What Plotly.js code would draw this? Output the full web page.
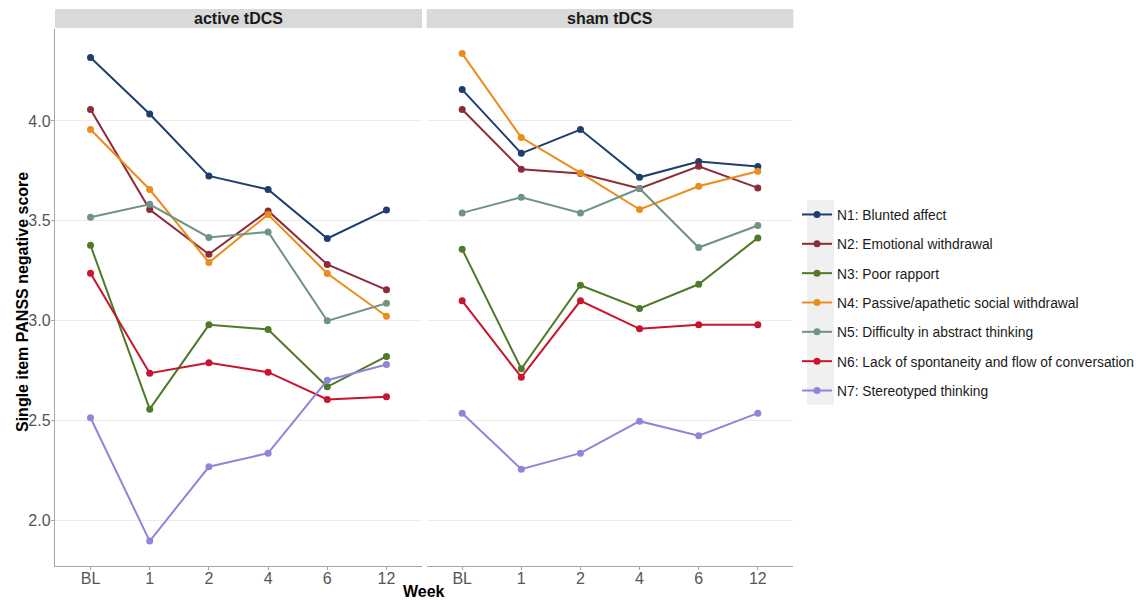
<!DOCTYPE html>
<html>
<head>
<meta charset="utf-8">
<script src="https://cdn.plot.ly/plotly-3.0.1.min.js"></script>
<style>html,body{margin:0;padding:0;background:#fff;}#chart{width:1147px;height:603px;}</style>
</head>
<body>
<div id="chart"></div>
<script>
const weeks = ["BL", "1", "2", "4", "6", "12"];
const panels = ["active tDCS", "sham tDCS"];
const itemNames = [
  "N1: Blunted affect",
  "N2: Emotional withdrawal",
  "N3: Poor rapport",
  "N4: Passive/apathetic social withdrawal",
  "N5: Difficulty in abstract thinking",
  "N6: Lack of spontaneity and flow of conversation",
  "N7: Stereotyped thinking"
];
const itemColors = ["#1c3f6e", "#8b2c3a", "#4f7a28", "#ec8c1a", "#6f9385", "#c8142d", "#8f86d8"];

// active tDCS
const activeN1 = [4.317, 4.035, 3.725, 3.657, 3.412, 3.554];
const activeN2 = [4.057, 3.557, 3.333, 3.550, 3.282, 3.155];
const activeN3 = [3.378, 2.558, 2.980, 2.957, 2.670, 2.822];
const activeN4 = [3.957, 3.657, 3.292, 3.532, 3.237, 3.023];
const activeN5 = [3.518, 3.583, 3.417, 3.445, 3.000, 3.088];
const activeN6 = [3.238, 2.738, 2.790, 2.743, 2.607, 2.620];
const activeN7 = [2.515, 1.898, 2.270, 2.338, 2.703, 2.782];
// sham tDCS
const shamN1 = [4.157, 3.838, 3.957, 3.718, 3.797, 3.772];
const shamN2 = [4.057, 3.758, 3.737, 3.662, 3.773, 3.665];
const shamN3 = [3.358, 2.760, 3.178, 3.062, 3.183, 3.415];
const shamN4 = [4.337, 3.917, 3.740, 3.557, 3.673, 3.748];
const shamN5 = [3.540, 3.618, 3.540, 3.662, 3.367, 3.477];
const shamN6 = [3.100, 2.718, 3.100, 2.960, 2.980, 2.980];
const shamN7 = [2.538, 2.258, 2.338, 2.498, 2.425, 2.538];

const activeSeries = [activeN1, activeN2, activeN3, activeN4, activeN5, activeN6, activeN7];
const shamSeries = [shamN1, shamN2, shamN3, shamN4, shamN5, shamN6, shamN7];

const yTickVals = [2.0, 2.5, 3.0, 3.5, 4.0];
const yTickText = ["2.0", "2.5", "3.0", "3.5", "4.0"];

const W = 1147, H = 603;
const plotTop = 29, plotBottom = 566;
const ph = plotBottom - plotTop;
const dom1 = [55 / W, 422 / W];
const dom2 = [426.7 / W, 793.3 / W];
const FONT = "Liberation Sans, Arial, sans-serif";

const traces = [];
itemNames.forEach((name, i) => {
  traces.push({
    x: weeks, y: activeSeries[i], xaxis: "x", yaxis: "y",
    type: "scatter", mode: "lines+markers", name: name,
    legendgroup: "g" + i, showlegend: true,
    line: {color: itemColors[i], width: 2},
    marker: {color: itemColors[i], size: 7}
  });
});
itemNames.forEach((name, i) => {
  traces.push({
    x: weeks, y: shamSeries[i], xaxis: "x2", yaxis: "y2",
    type: "scatter", mode: "lines+markers", name: name,
    legendgroup: "g" + i, showlegend: false,
    line: {color: itemColors[i], width: 2},
    marker: {color: itemColors[i], size: 7}
  });
});

const yr = [2.0 - (plotBottom - 520.7) / 200, 4.0 + (121 - plotTop) / 200];

const xaxisBase = {
  type: "category", categoryorder: "array", categoryarray: weeks,
  range: [-0.6, 5.6], showgrid: false, zeroline: false,
  showline: true, linecolor: "#a6a6a6", linewidth: 1.2,
  ticks: "outside", ticklen: 3, tickcolor: "#a6a6a6",
  ticklabelstandoff: -5,
  tickfont: {family: FONT, size: 16, color: "#555555"}
};
const yaxisBase = {
  range: yr, tickvals: yTickVals, ticktext: yTickText,
  showgrid: true, gridcolor: "#ececec", gridwidth: 1, zeroline: false,
  tickfont: {family: FONT, size: 16, color: "#555555"}
};

const layout = {
  width: W, height: H,
  margin: {l: 0, r: 0, t: plotTop, b: H - plotBottom, pad: 0},
  paper_bgcolor: "#ffffff", plot_bgcolor: "#ffffff",
  font: {family: FONT},
  xaxis: Object.assign({}, xaxisBase, {domain: dom1, anchor: "y"}),
  xaxis2: Object.assign({}, xaxisBase, {domain: dom2, anchor: "y2"}),
  yaxis: Object.assign({}, yaxisBase, {anchor: "x", showline: true, linecolor: "#a6a6a6", linewidth: 1.2,
    ticks: "outside", ticklen: 3, tickcolor: "#a6a6a6", ticklabelstandoff: -3}),
  yaxis2: Object.assign({}, yaxisBase, {anchor: "x2", showticklabels: false, showline: false, ticks: ""}),
  showlegend: true,
  legend: {
    x: 797 / W, xanchor: "left", y: (plotBottom - 199) / ph, yanchor: "top",
    bgcolor: "rgba(0,0,0,0)", borderwidth: 0,
    font: {family: FONT, size: 13.8, color: "#1a1a1a"},
    tracegroupgap: 8.4, itemclick: false
  },
  shapes: [
    {type: "rect", xref: "paper", yref: "paper", x0: dom1[0], x1: dom1[1],
     y0: 1 + 1 / ph, y1: 1 + 20 / ph, fillcolor: "#d9d9d9", line: {width: 0}},
    {type: "rect", xref: "paper", yref: "paper", x0: dom2[0], x1: dom2[1],
     y0: 1 + 1 / ph, y1: 1 + 20 / ph, fillcolor: "#d9d9d9", line: {width: 0}},
    {type: "rect", xref: "paper", yref: "paper", x0: 807 / W, x1: 834 / W,
     y0: (plotBottom - 405) / ph, y1: (plotBottom - 200) / ph, fillcolor: "#f0f0f0", line: {width: 0}, layer: "below"}
  ],
  annotations: [
    {text: "<b>" + panels[0] + "</b>", xref: "paper", yref: "paper",
     x: (dom1[0] + dom1[1]) / 2, y: 1 + 10.5 / ph, xanchor: "center", yanchor: "middle",
     showarrow: false, font: {family: FONT, size: 16, color: "#1a1a1a"}},
    {text: "<b>" + panels[1] + "</b>", xref: "paper", yref: "paper",
     x: (dom2[0] + dom2[1]) / 2, y: 1 + 10.5 / ph, xanchor: "center", yanchor: "middle",
     showarrow: false, font: {family: FONT, size: 16, color: "#1a1a1a"}},
    {text: "<b>Week</b>", xref: "paper", yref: "paper",
     x: 424 / W, y: (plotBottom - 591) / ph, xanchor: "center", yanchor: "middle",
     showarrow: false, font: {family: FONT, size: 16, color: "#000000"}},
    {text: "<b>Single item PANSS negative score</b>", xref: "paper", yref: "paper",
     x: 22 / W, y: (plotBottom - 302) / ph, xanchor: "center", yanchor: "middle", textangle: -90,
     showarrow: false, font: {family: FONT, size: 16, color: "#000000"}}
  ]
};

Plotly.newPlot("chart", traces, layout, {displayModeBar: false, staticPlot: true});
</script>
</body>
</html>
